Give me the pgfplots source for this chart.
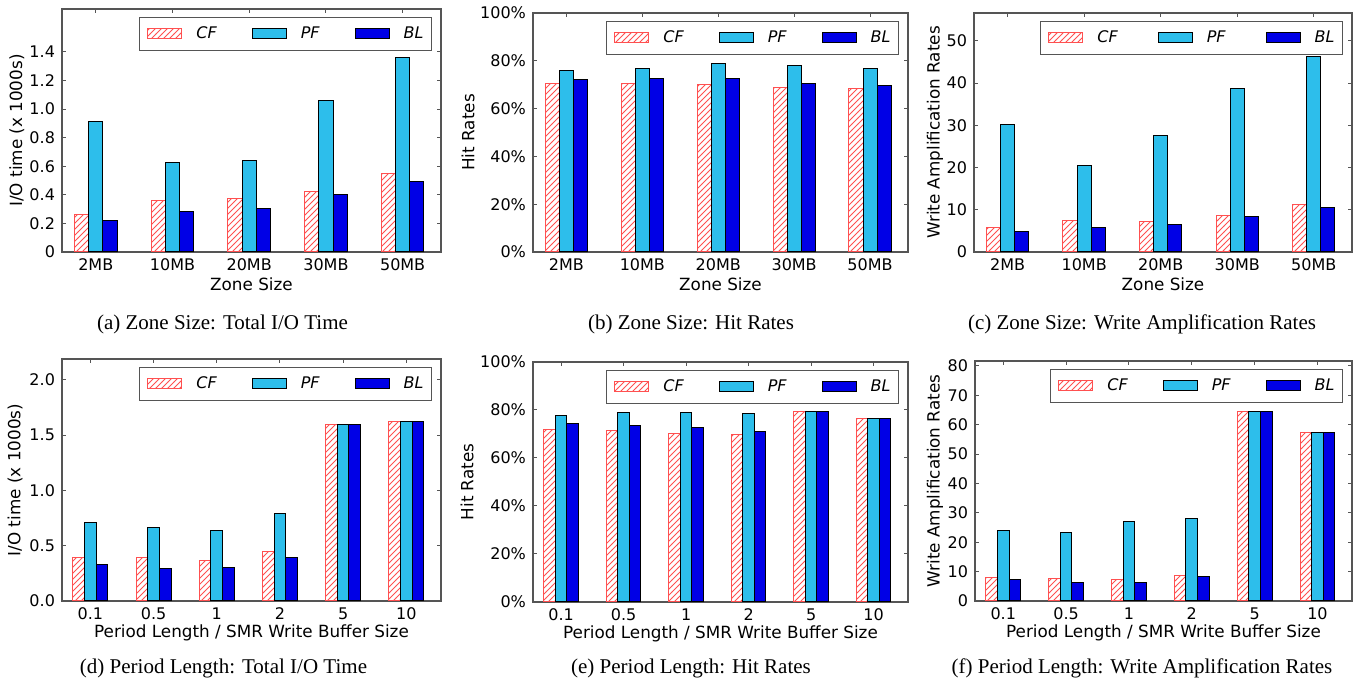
\documentclass[border=0pt]{standalone}
\usepackage{pgfplots}
\pgfplotsset{compat=1.18}
\usepackage{pgfplotstable}
\usetikzlibrary{patterns}
\usepackage{fontspec}
\setmainfont{DejaVu Sans}
\newfontfamily\capfont{Liberation Serif}
\definecolor{cfred}{RGB}{255,80,80}
\definecolor{pfcyan}{RGB}{45,190,235}
\definecolor{blblue}{RGB}{0,0,230}
\definecolor{framegray}{RGB}{85,85,85}

\pgfplotstableread{
x cf pf bl
0 0.260 0.910 0.222
1 0.357 0.625 0.282
2 0.371 0.639 0.306
3 0.425 1.062 0.401
4 0.551 1.363 0.490
}\tabA
\pgfplotstableread{
x cf pf bl
0 70.7 76.0 72.2
1 70.4 76.6 72.5
2 70.2 78.7 72.5
3 69.0 78.2 70.7
4 68.6 76.7 69.7
}\tabB
\pgfplotstableread{
x cf pf bl
0 5.7 30.2 4.9
1 7.5 20.5 5.9
2 7.2 27.5 6.6
3 8.7 38.7 8.3
4 11.3 46.4 10.6
}\tabC
\pgfplotstableread{
x cf pf bl
0 0.395 0.706 0.329
1 0.392 0.667 0.296
2 0.362 0.640 0.302
3 0.452 0.796 0.395
4 1.596 1.596 1.596
5 1.626 1.626 1.626
}\tabD
\pgfplotstableread{
x cf pf bl
0 72.0 77.9 74.4
1 71.4 78.9 73.5
2 70.3 78.9 72.6
3 69.9 78.4 71.0
4 79.5 79.5 79.5
5 76.6 76.6 76.6
}\tabE
\pgfplotstableread{
x cf pf bl
0 7.95 24.0 7.4
1 7.7 23.4 6.25
2 7.2 27.2 6.4
3 8.75 28.2 8.2
4 64.5 64.5 64.5
5 57.2 57.2 57.2
}\tabF

\pgfplotsset{
  myaxis/.style={
    scale only axis,
    ybar,
    anchor=south west,
    ymin=0,
    enlargelimits=false,
    axis line style={framegray, line width=0.6pt},
    tick style={framegray, line width=0.5pt},
    major tick length=2pt,
    tick align=inside,
    ticklabel style={font=\fontsize{8}{9.6}\selectfont},
    /pgf/number format/assume math mode=true,
    label style={font=\fontsize{8.4}{10}\selectfont},
    xlabel style={at={(axis description cs:0.5,0)}, anchor=center, yshift=-16pt},
    legend columns=3,
    legend style={at={(1,1)}, anchor=north east, xshift=-4.5pt, yshift=-4pt,
      draw=framegray, line width=0.5pt,
      font=\fontsize{8}{9.6}\selectfont\itshape,
      nodes={inner sep=0pt}, inner xsep=4pt, inner ysep=4.5pt,
      /tikz/every odd column/.append style={column sep=7pt},
      /tikz/every even column/.append style={column sep=17.5pt}},
  },
  toprow/.style={xmin=-0.44, xmax=4.5, xtick={0,1,2,3,4},
    xticklabels={2MB,10MB,20MB,30MB,50MB}, xlabel={Zone Size}},
  botrow/.style={xmin=-0.45, xmax=5.55, xtick={0,1,2,3,4,5},
    xticklabels={0.1,0.5,1,2,5,10}, xlabel={Period Length / SMR Write Buffer Size}},
  cfbar/.style={bar shift=-0.185, bar width=0.185, draw=cfred, line width=0.5pt,
    pattern=north east lines, pattern color=cfred,
    legend image code/.code={\draw[##1] (0pt,-2.5pt) rectangle (17pt,2.5pt);}},
  pfbar/.style={bar shift=0, bar width=0.185, draw=black, line width=0.5pt, fill=pfcyan,
    legend image code/.code={\draw[##1] (0pt,-2.5pt) rectangle (17pt,2.5pt);}},
  blbar/.style={bar shift=0.185, bar width=0.185, draw=black, line width=0.5pt, fill=blblue,
    legend image code/.code={\draw[##1] (0pt,-2.5pt) rectangle (17pt,2.5pt);}},
}

\begin{document}
\begin{tikzpicture}
\useasboundingbox (0,0) rectangle (679.5pt,344pt);

% (a)
\begin{axis}[myaxis, toprow, at={(31pt,218pt)}, width=189.5pt, height=121.5pt,
  ymax=1.7, ytick={0,0.2,0.4,0.6,0.8,1.0,1.2,1.4},
  yticklabels={0,0.2,0.4,0.6,0.8,1.0,1.2,1.4},
  ylabel={I/O time (x 1000s)},
  ylabel style={at={(axis description cs:-0.119,0.5)}, anchor=center}]
\addplot[cfbar] table[x=x,y=cf]{\tabA};
\addplot[pfbar] table[x=x,y=pf]{\tabA};
\addplot[blbar] table[x=x,y=bl]{\tabA};
\legend{CF,PF,BL}
\end{axis}

% (b)
\begin{axis}[myaxis, toprow, at={(266.5pt,218pt)}, width=187.5pt, height=119.5pt,
  ymax=100, ytick={0,20,40,60,80,100},
  yticklabels={0\%,20\%,40\%,60\%,80\%,100\%},
  ylabel={Hit Rates},
  ylabel style={at={(axis description cs:-0.173,0.5)}, anchor=center}]
\addplot[cfbar] table[x=x,y=cf]{\tabB};
\addplot[pfbar] table[x=x,y=pf]{\tabB};
\addplot[blbar] table[x=x,y=bl]{\tabB};
\legend{CF,PF,BL}
\end{axis}

% (c)
\begin{axis}[myaxis, toprow, at={(487pt,218pt)}, width=189pt, height=119.5pt,
  ymax=56.6, ytick={0,10,20,30,40,50},
  yticklabels={0,10,20,30,40,50},
  ylabel={Write Amplification Rates},
  ylabel style={at={(axis description cs:-0.103,0.5)}, anchor=center},
  legend style={/tikz/every even column/.append style={column sep=20pt}}]
\addplot[cfbar] table[x=x,y=cf]{\tabC};
\addplot[pfbar] table[x=x,y=pf]{\tabC};
\addplot[blbar] table[x=x,y=bl]{\tabC};
\legend{CF,PF,BL}
\end{axis}

% (d)
\begin{axis}[myaxis, botrow, at={(31pt,43.5pt)}, width=189.5pt, height=121pt,
  ymax=2.19, ytick={0,0.5,1.0,1.5,2.0},
  yticklabels={0.0,0.5,1.0,1.5,2.0},
  ylabel={I/O time (x 1000s)},
  ylabel style={at={(axis description cs:-0.124,0.5)}, anchor=center}]
\addplot[cfbar] table[x=x,y=cf]{\tabD};
\addplot[pfbar] table[x=x,y=pf]{\tabD};
\addplot[blbar] table[x=x,y=bl]{\tabD};
\legend{CF,PF,BL}
\end{axis}

% (e)
\begin{axis}[myaxis, botrow, at={(266.5pt,43pt)}, width=187.5pt, height=120pt,
  ymax=100, ytick={0,20,40,60,80,100},
  yticklabels={0\%,20\%,40\%,60\%,80\%,100\%},
  ylabel={Hit Rates},
  ylabel style={at={(axis description cs:-0.176,0.5)}, anchor=center}]
\addplot[cfbar] table[x=x,y=cf]{\tabE};
\addplot[pfbar] table[x=x,y=pf]{\tabE};
\addplot[blbar] table[x=x,y=bl]{\tabE};
\legend{CF,PF,BL}
\end{axis}

% (f)
\begin{axis}[myaxis, botrow, at={(487.5pt,43.5pt)}, width=188.5pt, height=120pt,
  ymax=81.7, ytick={0,10,20,30,40,50,60,70,80},
  yticklabels={0,10,20,30,40,50,60,70,80},
  ylabel={Write Amplification Rates},
  ylabel style={at={(axis description cs:-0.106,0.5)}, anchor=center}]
\addplot[cfbar] table[x=x,y=cf]{\tabF};
\addplot[pfbar] table[x=x,y=pf]{\tabF};
\addplot[blbar] table[x=x,y=bl]{\tabF};
\legend{CF,PF,BL}
\end{axis}

\begin{scope}[every node/.style={font=\capfont\fontsize{10.5}{12}\selectfont, inner sep=0pt}]
\node at (111.25pt,182pt) {(a) Zone Size: Total I/O Time};
\node at (345.5pt,182pt) {(b) Zone Size: Hit Rates};
\node at (571pt,182pt) {(c) Zone Size: Write Amplification Rates};
\node at (111.75pt,10pt) {(d) Period Length: Total I/O Time};
\node at (345.5pt,10pt) {(e) Period Length: Hit Rates};
\node at (571pt,10pt) {(f) Period Length: Write Amplification Rates};
\end{scope}
\end{tikzpicture}
\end{document}
